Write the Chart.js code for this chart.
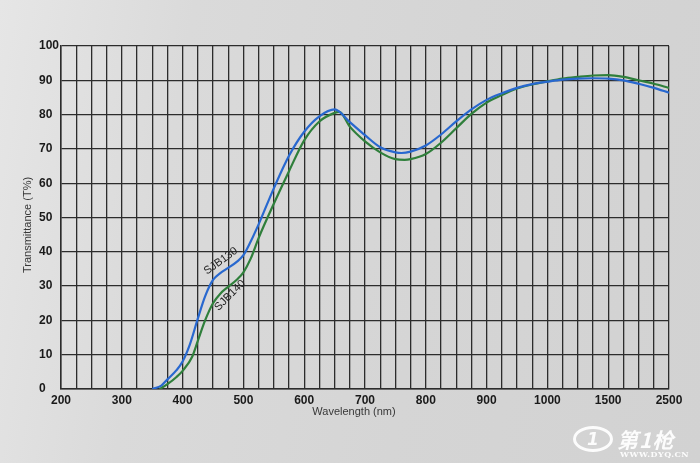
<!DOCTYPE html>
<html>
<head>
<meta charset="utf-8">
<script src="https://cdn.jsdelivr.net/npm/chart.js@4"></script>
<style>
  html, body { margin: 0; padding: 0; }
  body {
    width: 700px; height: 463px; overflow: hidden; position: relative;
    background: linear-gradient(100deg, #e6e6e6 0%, #dadada 25%, #d5d5d5 60%, #d2d2d2 100%);
    font-family: "Liberation Sans", Arial, sans-serif;
  }
  #wrap { position: absolute; left: 0; top: 0; width: 700px; height: 463px; }
  .wm { position: absolute; color: rgba(255,255,255,0.92); }
  .wm-logo {
    left: 573px; top: 426px; width: 34px; height: 20px; border: 3px solid rgba(255,255,255,0.92);
    border-radius: 50%; font: italic bold 17px "DejaVu Sans", sans-serif; line-height: 20px; text-align: center;
  }
  .wm-name { left: 617px; top: 424px; font: italic bold 21px "Noto Sans CJK SC", sans-serif; letter-spacing: 1px; }
  .wm-url { left: 620px; top: 449px; font: bold 8px "DejaVu Serif", serif; letter-spacing: 0.5px; }
</style>
</head>
<body>
<div id="wrap"><canvas id="chart" width="700" height="463"></canvas></div>
<div class="wm wm-logo">1</div>
<div class="wm wm-name">第1枪</div>
<div class="wm wm-url">WWW.DYQ.CN</div>

<script>
// tick labels on the (non-linear) wavelength axis, one per major gridline
const xLabels = ['200', '300', '400', '500', '600', '700', '800', '900', '1000', '1500', '2500'];

// SJB130 (blue) — wavelength nm / transmittance %
const wlSJB130 = [350, 365, 375, 390, 400, 412, 425, 437, 450, 462, 475, 490, 500, 512, 525, 550, 575, 600, 625, 650,
  675, 700, 725, 750, 760, 775, 800, 825, 850, 875, 900, 925, 950, 975, 1000, 1125, 1250, 1375, 1500, 1750, 2000, 2250, 2500];
const tSJB130 = [0, 1, 2.8, 5.5, 8, 13, 20.5, 27, 31.8, 33.8, 35.3, 37.2, 39, 43, 48, 58.5, 68, 75, 79.5, 81.5,
  77.8, 74, 70.5, 69, 68.8, 69.2, 71, 74.2, 78, 81.5, 84.3, 86.2, 87.8, 88.9, 89.6, 90.2, 90.5, 90.6, 90.5, 90, 89, 87.8, 86.4];

// SJB140 (green)
const wlSJB140 = [362, 375, 390, 400, 416, 425, 437, 450, 462, 475, 490, 500, 512, 525, 550, 575, 600, 625, 650, 658,
  675, 700, 725, 750, 765, 775, 800, 825, 850, 875, 900, 925, 950, 975, 1000, 1125, 1250, 1375, 1500, 1750, 2000, 2250, 2500];
const tSJB140 = [0, 1.4, 3.5, 5.3, 9.5, 14, 20, 25, 27.8, 29.8, 32, 34, 38, 44, 54, 63.5, 72.5, 78, 80.5, 80.8,
  76.5, 72.2, 69, 67, 66.8, 67, 68.5, 71.8, 76, 80.2, 83.5, 85.7, 87.6, 88.8, 89.7, 90.5, 91, 91.4, 91.5, 91, 90, 89, 87.8];

const yTicks = [0, 10, 20, 30, 40, 50, 60, 70, 80, 90, 100];

// axis is evenly spaced per label: 100nm steps up to 1000, then 500, then 1000
function wlToIdx(w) {
  if (w <= 1000) return (w - 200) / 100;
  if (w <= 1500) return 8 + (w - 1000) / 500;
  return 9 + (w - 1500) / 1000;
}
const toPoints = (wl, t) => wl.map((w, i) => ({ x: wlToIdx(w), y: t[i] }));

const BLUE = '#2868cf', GREEN = '#2f7f3b', GRID = '#2c2c2c';
const FONT = '"Liberation Sans", Arial, sans-serif';

// axis titles + curve names drawn onto the canvas
const labelsPlugin = {
  id: 'labels',
  afterDraw(chart) {
    const { ctx, scales: { x, y } } = chart;
    ctx.save();
    ctx.fillStyle = '#383838';
    ctx.textAlign = 'center';
    ctx.textBaseline = 'middle';
    ctx.font = '11px ' + FONT;
    ctx.fillText('Wavelength (nm)', 354, 412);
    ctx.translate(28, 225);
    ctx.rotate(-Math.PI / 2);
    ctx.fillText('Transmittance (T%)', 0, 0);
    ctx.restore();

    const tag = (text, wl, t, deg) => {
      ctx.save();
      ctx.fillStyle = '#1e1e1e';
      ctx.font = '11px ' + FONT;
      ctx.textAlign = 'center';
      ctx.textBaseline = 'middle';
      ctx.translate(x.getPixelForValue(wlToIdx(wl)), y.getPixelForValue(t));
      ctx.rotate(deg * Math.PI / 180);
      ctx.fillText(text, 0, 0);
      ctx.restore();
    };
    tag('SJB130', 463, 37.3, -36);
    tag('SJB140', 478, 27.3, -45);
  }
};

new Chart(document.getElementById('chart'), {
  type: 'line',
  data: {
    datasets: [
      { label: 'SJB130', data: toPoints(wlSJB130, tSJB130), borderColor: BLUE, borderWidth: 2.2 },
      { label: 'SJB140', data: toPoints(wlSJB140, tSJB140), borderColor: GREEN, borderWidth: 2.2 }
    ]
  },
  options: {
    responsive: false,
    animation: false,
    layout: { padding: { left: 39, right: 31, top: 46, bottom: 0 } },
    elements: { point: { radius: 0 }, line: { cubicInterpolationMode: 'monotone', fill: false } },
    plugins: { legend: { display: false }, tooltip: { enabled: false } },
    scales: {
      x: {
        type: 'linear', min: 0, max: 10,
        afterFit: s => { s.height = 74; },
        grid: { color: GRID, lineWidth: 1.3, drawTicks: false },
        border: { color: GRID, width: 1.5 },
        ticks: {
          stepSize: 0.25, autoSkip: false, maxRotation: 0, minRotation: 0, padding: 4,
          color: '#1a1a1a', font: { family: FONT, size: 12, weight: 'bold' },
          callback: v => Number.isInteger(v) ? xLabels[v] : ''
        }
      },
      y: {
        min: 0, max: 100,
        afterFit: s => { s.width = 22; },
        afterBuildTicks: s => { s.ticks = yTicks.map(v => ({ value: v })); },
        grid: { color: GRID, lineWidth: 1.3, drawTicks: false },
        border: { color: GRID, width: 1.5 },
        ticks: {
          crossAlign: 'far', color: '#1a1a1a',
          font: { family: FONT, size: 12, weight: 'bold' }
        }
      }
    }
  },
  plugins: [labelsPlugin]
});
</script>
</body>
</html>
